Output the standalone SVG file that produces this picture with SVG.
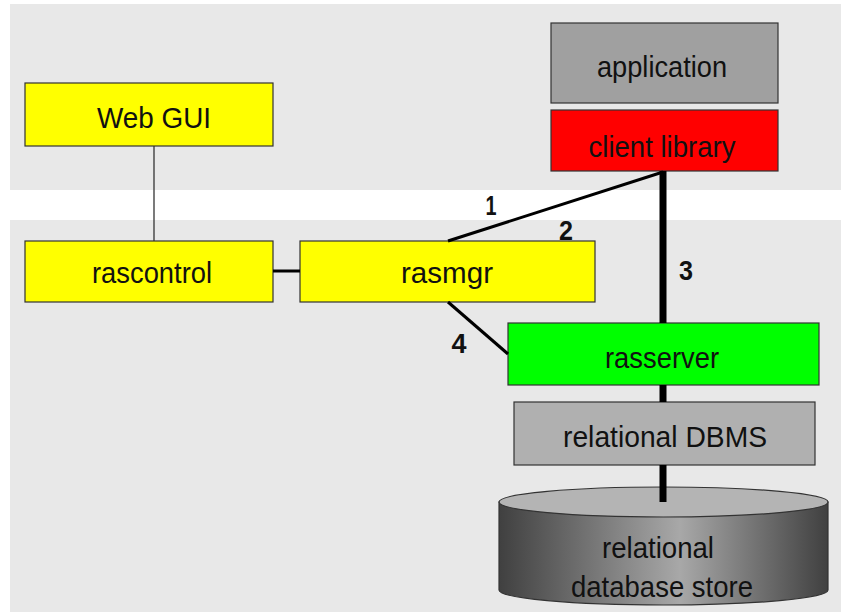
<svg xmlns="http://www.w3.org/2000/svg" width="841" height="616" viewBox="0 0 841 616">
<defs>
<style>
.panel{fill:#e8e8e8;stroke:none}
.box{stroke:#333;stroke-width:1.2}
.yellow{fill:#ffff00}
.lbl{font-family:"Liberation Sans",Arial,sans-serif;font-size:30px;fill:#111;text-anchor:middle}
.num{font-family:"Liberation Sans",Arial,sans-serif;font-size:28px;font-weight:bold;fill:#111;text-anchor:middle}
.thin{stroke:#333;stroke-width:1.3;fill:none}
.med{stroke:#000;stroke-width:3;fill:none}
.thick{stroke:#000;stroke-width:7;fill:none}
</style>
<linearGradient id="cyl" x1="0" y1="0" x2="1" y2="0">
<stop offset="0" stop-color="#404040"/>
<stop offset="0.55" stop-color="#a8a8a8"/>
<stop offset="1" stop-color="#404040"/>
</linearGradient>
</defs>
<rect width="841" height="616" fill="#ffffff"/>
<rect class="panel" x="10" y="4" width="831" height="186"/>
<rect class="panel" x="10" y="220" width="831" height="392"/>

<g id="webgui">
<rect class="box yellow" x="25" y="83" width="248" height="63"/>
<text class="lbl" x="154" y="128" textLength="114" lengthAdjust="spacingAndGlyphs">Web GUI</text>
</g>
<g id="rascontrol">
<rect class="box yellow" x="25" y="241" width="248" height="61"/>
<text class="lbl" x="152" y="283" textLength="120" lengthAdjust="spacingAndGlyphs">rascontrol</text>
</g>
<g id="rasmgr">
<rect class="box yellow" x="300" y="241" width="295" height="61"/>
<text class="lbl" x="447" y="283" textLength="92" lengthAdjust="spacingAndGlyphs">rasmgr</text>
</g>
<g id="application">
<rect class="box" fill="#a0a0a0" x="551" y="23" width="227" height="80"/>
<text class="lbl" x="662" y="77" textLength="130" lengthAdjust="spacingAndGlyphs">application</text>
</g>
<g id="clientlibrary">
<rect class="box" fill="#ff0000" x="551" y="110" width="227" height="61"/>
<text class="lbl" x="662" y="157" textLength="147" lengthAdjust="spacingAndGlyphs">client library</text>
</g>
<g id="rasserver">
<rect class="box" fill="#00ff00" x="508" y="323" width="311" height="62"/>
<text class="lbl" x="662" y="368" textLength="114" lengthAdjust="spacingAndGlyphs">rasserver</text>
</g>
<g id="rdbms">
<rect class="box" fill="#b0b0b0" x="514" y="402" width="301" height="63"/>
<text class="lbl" x="665" y="447" textLength="204" lengthAdjust="spacingAndGlyphs">relational DBMS</text>
</g>
<g id="dbstore">
<path d="M499,502 L499,590 A164.5,15 0 0 0 828,590 L828,502 Z" fill="url(#cyl)" stroke="#333" stroke-width="1.2"/>
<ellipse cx="663.5" cy="502" rx="164.5" ry="15" fill="#b4b4b4" stroke="#333" stroke-width="1.2"/>
<text class="lbl" x="658" y="558" textLength="112" lengthAdjust="spacingAndGlyphs">relational</text>
<text class="lbl" x="662" y="597" textLength="182" lengthAdjust="spacingAndGlyphs">database store</text>
</g>

<g id="connectors">
<line class="thin" x1="154" y1="146" x2="154" y2="241"/>
<line class="med" x1="273" y1="271" x2="300" y2="271"/>
<line class="med" x1="663" y1="172" x2="448" y2="241"/>
<line class="med" x1="448" y1="302" x2="508" y2="354"/>
<line class="thick" x1="663" y1="171" x2="663" y2="323"/>
<line class="thick" x1="663" y1="385" x2="663" y2="402"/>
<line class="thick" x1="663" y1="465" x2="663" y2="502"/>
<text class="num" x="491" y="215" textLength="11" lengthAdjust="spacingAndGlyphs">1</text>
<text class="num" x="566" y="240" textLength="14" lengthAdjust="spacingAndGlyphs">2</text>
<text class="num" x="686" y="280" textLength="14" lengthAdjust="spacingAndGlyphs">3</text>
<text class="num" x="459" y="353" textLength="15" lengthAdjust="spacingAndGlyphs">4</text>
</g>
</svg>
